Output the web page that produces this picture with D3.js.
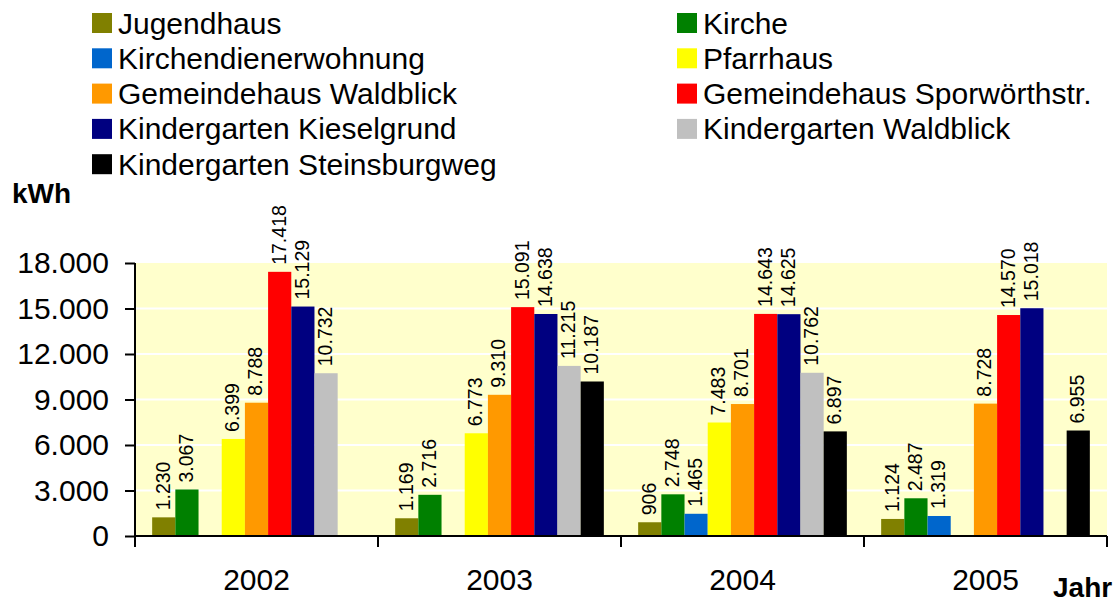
<!DOCTYPE html>
<html>
<head>
    <meta charset="utf-8">
    <title>Energieverbrauch kWh</title>
    <script type="text/javascript" src="https://d3js.org/d3.v7.min.js"></script>
    <style type="text/css">
        body { margin: 0; background: #ffffff; }
        svg { font-family: "Liberation Sans", Arial, sans-serif; }
        .bar-label { font-size: 19.5px; }
        .legend text { font-size: 30px; }
        .axis text { font-size: 30px; fill: #000; }
        .unit { font-size: 28px; font-weight: bold; }
    </style>
</head>
<body>
<script type="text/javascript">

    // Jahre (Kategorien)
    var years = ["2002", "2003", "2004", "2005"];

    // Gebäude (Serien)
    var buildings = [
        "Jugendhaus", "Kirche", "Kirchendienerwohnung", "Pfarrhaus",
        "Gemeindehaus Waldblick", "Gemeindehaus Sporwörthstr.",
        "Kindergarten Kieselgrund", "Kindergarten Waldblick",
        "Kindergarten Steinsburgweg"
    ];
    var colors = ["#808000", "#008000", "#0066cc", "#ffff00",
                  "#ff9900", "#ff0000", "#000080", "#c0c0c0", "#000000"];

    // Werte je Gebäude, Reihenfolge wie years (null = kein Wert)
    var jugendhaus      = [1230, 1169, 906, 1124];
    var kirche          = [3067, 2716, 2748, 2487];
    var kirchendiener   = [null, null, 1465, 1319];
    var pfarrhaus       = [6399, 6773, 7483, null];
    var ghWaldblick     = [8788, 9310, 8701, 8728];
    var ghSporwoerth    = [17418, 15091, 14643, 14570];
    var kgKieselgrund   = [15129, 14638, 14625, 15018];
    var kgWaldblick     = [10732, 11215, 10762, null];
    var kgSteinsburgweg = [null, 10187, 6897, 6955];

    var yTicks = [0, 3000, 6000, 9000, 12000, 15000, 18000];

    var series = [jugendhaus, kirche, kirchendiener, pfarrhaus, ghWaldblick,
                  ghSporwoerth, kgKieselgrund, kgWaldblick, kgSteinsburgweg];

    var de = d3.formatLocale({decimal: ",", thousands: ".", grouping: [3], currency: ["", " €"]});
    var fmt = de.format(",d");

    var width = 1119, height = 600;
    var plot = {left: 135, right: 1107, top: 263, bottom: 536};

    var svg = d3.select("body").append("svg")
        .attr("width", width)
        .attr("height", height);

    var x0 = d3.scaleBand()
        .domain(years)
        .range([plot.left, plot.right])
        .padding(0);

    var x1 = d3.scaleBand()
        .domain(buildings)
        .range([0, x0.bandwidth()])
        .paddingInner(0)
        .paddingOuter(0.74);

    var y = d3.scaleLinear()
        .domain([0, 18000])
        .range([plot.bottom, plot.top]);

    // Hintergrund Zeichenfläche
    svg.append("rect")
        .attr("x", plot.left)
        .attr("y", plot.top)
        .attr("width", plot.right - plot.left)
        .attr("height", plot.bottom - plot.top)
        .attr("fill", "#ffffcc");

    // Gitternetz
    svg.append("g")
        .selectAll("line")
        .data(yTicks.filter(function(d) { return d > 0 && d < 18000; }))
        .enter().append("line")
        .attr("x1", plot.left)
        .attr("x2", plot.right)
        .attr("y1", function(d) { return y(d); })
        .attr("y2", function(d) { return y(d); })
        .attr("stroke", "#ffffff")
        .attr("stroke-width", 2);

    // Balken
    var flat = [];
    years.forEach(function(yr, i) {
        buildings.forEach(function(b, j) {
            if (series[j][i] != null) {
                flat.push({year: yr, building: b, value: series[j][i], color: colors[j]});
            }
        });
    });

    svg.append("g").selectAll("rect")
        .data(flat)
        .enter().append("rect")
        .attr("x", function(d) { return x0(d.year) + x1(d.building); })
        .attr("width", x1.bandwidth())
        .attr("y", function(d) { return y(d.value); })
        .attr("height", function(d) { return y(0) - y(d.value); })
        .attr("fill", function(d) { return d.color; });

    // Datenbeschriftung
    svg.append("g").selectAll("text")
        .data(flat)
        .enter().append("text")
        .attr("class", "bar-label")
        .attr("transform", function(d) {
            var cx = x0(d.year) + x1(d.building) + x1.bandwidth() / 2;
            return "translate(" + cx + "," + (y(d.value) - 7) + ")rotate(-90)";
        })
        .attr("dy", "0.3em")
        .attr("text-anchor", "start")
        .text(function(d) { return fmt(d.value); });

    // Y-Achse
    var yAxis = svg.append("g")
        .attr("class", "axis")
        .attr("transform", "translate(" + plot.left + ",0)")
        .call(d3.axisLeft(y)
            .tickValues(yTicks)
            .tickSize(10)
            .tickPadding(16)
            .tickFormat(fmt));
    yAxis.selectAll("line, path").attr("stroke", "#000").attr("stroke-width", 2);
    yAxis.select(".domain").attr("d", "M0," + plot.top + "V" + plot.bottom);

    // X-Achse
    var xAxis = svg.append("g")
        .attr("class", "axis")
        .attr("transform", "translate(0," + plot.bottom + ")")
        .call(d3.axisBottom(x0).tickSize(0).tickPadding(33));
    xAxis.select(".domain").attr("stroke", "#000").attr("stroke-width", 2)
        .attr("d", "M" + plot.left + ",0H" + plot.right);

    var bounds = years.map(function(d) { return x0(d); }).concat([plot.right]);
    svg.append("g").selectAll("line")
        .data(bounds)
        .enter().append("line")
        .attr("x1", function(d) { return d; })
        .attr("x2", function(d) { return d; })
        .attr("y1", plot.bottom)
        .attr("y2", plot.bottom + 11)
        .attr("stroke", "#000")
        .attr("stroke-width", 2);

    // Einheiten
    svg.append("text").attr("class", "unit")
        .attr("x", 12).attr("y", 203).text("kWh");
    svg.append("text").attr("class", "unit")
        .attr("x", 1053).attr("y", 597).text("Jahr");

    // Legende
    var legend = svg.append("g").attr("class", "legend")
        .selectAll("g")
        .data(buildings)
        .enter().append("g")
        .attr("transform", function(d, i) {
            var col = i % 2, row = Math.floor(i / 2);
            return "translate(" + (col === 0 ? 92 : 677) + "," + (13 + row * 35.3) + ")";
        });
    legend.append("rect")
        .attr("width", 20)
        .attr("height", 20)
        .attr("fill", function(d, i) { return colors[i]; });
    legend.append("text")
        .attr("x", 26)
        .attr("y", 20.5)
        .text(function(d) { return d; });

</script>
</body>
</html>
